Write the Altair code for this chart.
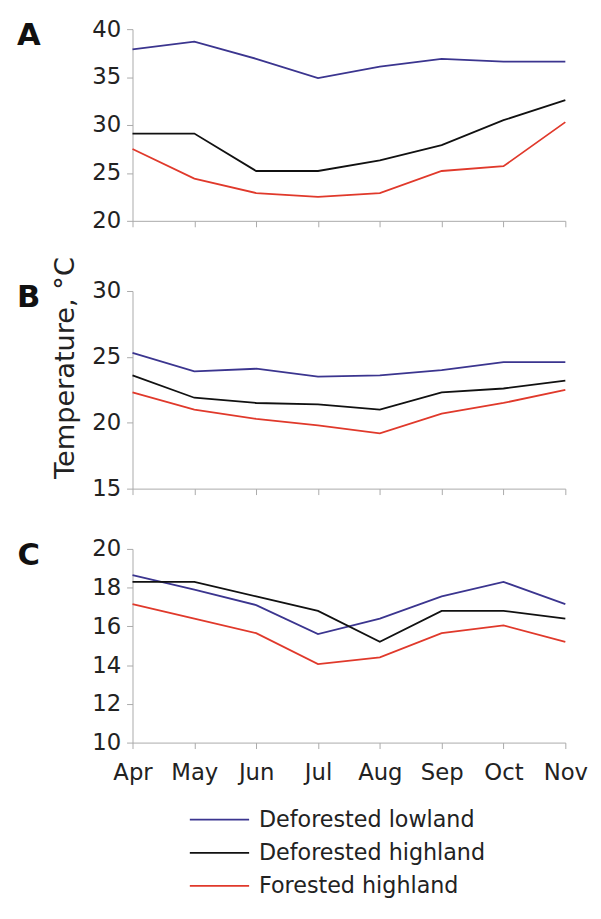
import altair as alt
import pandas as pd

months = ["Apr", "May", "Jun", "Jul", "Aug", "Sep", "Oct", "Nov"]
series = ["Deforested lowland", "Deforested highland", "Forested highland"]
colors = ["#3b358f", "#111111", "#e0392b"]

a_lowland = [37.9, 38.7, 36.9, 34.9, 36.1, 36.9, 36.6, 36.6]
a_def_high = [29.1, 29.1, 25.2, 25.2, 26.3, 27.9, 30.5, 32.6]
a_for_high = [27.5, 24.4, 22.9, 22.5, 22.9, 25.2, 25.7, 30.3]

b_lowland = [25.3, 23.9, 24.1, 23.5, 23.6, 24.0, 24.6, 24.6]
b_def_high = [23.6, 21.9, 21.5, 21.4, 21.0, 22.3, 22.6, 23.2]
b_for_high = [22.3, 21.0, 20.3, 19.8, 19.2, 20.7, 21.5, 22.5]

c_lowland = [18.65, 17.9, 17.1, 15.6, 16.4, 17.55, 18.3, 17.15]
c_def_high = [18.3, 18.3, 17.55, 16.8, 15.2, 16.8, 16.8, 16.4]
c_for_high = [17.15, 16.4, 15.65, 14.05, 14.4, 15.65, 16.05, 15.2]

a_ticks = [20, 25, 30, 35, 40]
b_ticks = [15, 20, 25, 30]
c_ticks = [10, 12, 14, 16, 18, 20]

FONT = "DejaVu Sans"
TXT = "#222222"
W = 438


def make_df(lists):
    rows = []
    for s, vals in zip(series, lists):
        for m, v in zip(months, vals):
            rows.append({"month": m, "series": s, "value": v})
    return pd.DataFrame(rows)


color_enc = alt.Color("series:N", scale=alt.Scale(domain=series, range=colors), legend=None)


def panel(lists, ticks, height, letter, show_x, ytitle=False):
    df = make_df(lists)
    x = alt.X(
        "month:O", sort=months,
        scale=alt.Scale(type="point", padding=0),
        axis=alt.Axis(title=None, labels=show_x, labelAngle=0, labelPadding=13,
                      labelFontSize=23),
    )
    y = alt.Y(
        "value:Q",
        scale=alt.Scale(domain=[ticks[0], ticks[-1]], nice=False, zero=False),
        axis=alt.Axis(title=None, values=ticks, labelPadding=6, labelFontSize=23),
    )
    line = alt.Chart(df).mark_line(strokeWidth=1.8).encode(
        x=x, y=y, color=color_enc, detail="series:N"
    )
    lab = alt.Chart(pd.DataFrame({"t": [letter]})).mark_text(
        font=FONT, fontWeight="bold", fontSize=31, color="#111111",
        align="center", baseline="middle"
    ).encode(x=alt.value(-105), y=alt.value(7), text="t:N")
    layers = [line, lab]
    if ytitle:
        tt = alt.Chart(pd.DataFrame({"t": ["Temperature, °C"]})).mark_text(
            font=FONT, fontSize=27.5, color=TXT, angle=270,
            align="center", baseline="middle"
        ).encode(x=alt.value(-67), y=alt.value(78), text="t:N")
        layers.append(tt)
    return alt.layer(*layers).properties(width=W, height=height)


pA = panel([a_lowland, a_def_high, a_for_high], a_ticks, 194, "A", False)
pB = panel([b_lowland, b_def_high, b_for_high], b_ticks, 200, "B", False, ytitle=True)
pC = panel([c_lowland, c_def_high, c_for_high], c_ticks, 196, "C", True)

leg_df = pd.DataFrame({"series": series})
leg_y = alt.Y("series:N", sort=series,
              scale=alt.Scale(type="point", range=[8, 75], padding=0), axis=None)
leg_rule = alt.Chart(leg_df).mark_rule(strokeWidth=1.8).encode(
    x=alt.value(58), x2=alt.value(118), y=leg_y, color=color_enc
)
leg_text = alt.Chart(leg_df).mark_text(
    font=FONT, fontSize=22.5, color=TXT, align="left", baseline="middle"
).encode(x=alt.value(128), y=leg_y, text="series:N")
legend = alt.layer(leg_rule, leg_text).properties(width=W, height=80)

inner2 = alt.vconcat(pC, legend, spacing=70, bounds="flush")
inner1 = alt.vconcat(pB, inner2, spacing=61, bounds="flush")
chart = alt.vconcat(pA, inner1, spacing=71, bounds="flush").properties(
    padding={"left": 9, "top": 5, "right": 5, "bottom": 5},
    background="white",
).configure_view(stroke=None).configure_axis(
    grid=False, domainColor="#aaaaaa", tickColor="#aaaaaa", tickSize=6,
    domainWidth=1, tickWidth=1, labelFont=FONT, labelColor=TXT,
)

chart.save("out.html", embed_options={"renderer": "svg", "actions": False})
